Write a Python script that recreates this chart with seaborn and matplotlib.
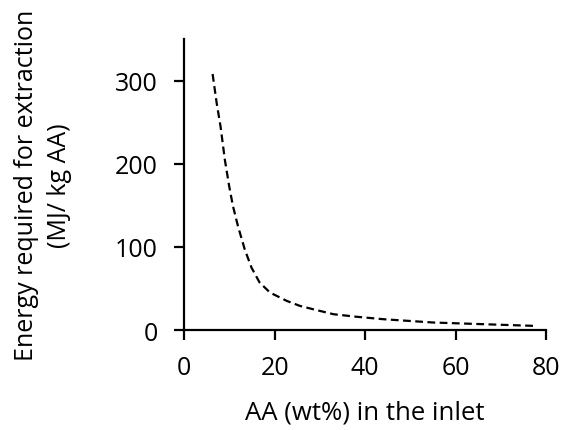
import matplotlib
matplotlib.use("Agg")
import matplotlib.pyplot as plt
import seaborn as sns
import pandas as pd

aa_wt = [6.3, 7.2, 8.05, 9.0, 9.96, 10.8, 11.9, 13.4, 14.9, 16.7, 19.0, 22.7, 25.6,
         28.5, 33.0, 38.0, 44.0, 55.1, 66.1, 77.2]
energy = [308, 273, 245, 205, 173, 149, 125, 97, 75, 57, 45, 35, 29,
          25, 19, 16, 13, 9, 7, 5]
x_ticks = [0, 20, 40, 60, 80]
y_ticks = [0, 100, 200, 300]

sns.set_theme(style="ticks")
plt.rcParams['font.family'] = ['Open Sans', 'DejaVu Sans']
plt.rcParams['text.color'] = 'black'
plt.rcParams['axes.labelcolor'] = 'black'

df = pd.DataFrame({"x": aa_wt, "y": energy})

fig = plt.figure(figsize=(5.63, 4.31), dpi=100)
ax = fig.add_axes([0.327, 0.232, 0.643, 0.675])
sns.lineplot(data=df, x="x", y="y", ax=ax, color="black", linestyle=(0, (3.5, 2)), linewidth=1.6)

ax.set_xlim(0, 80)
ax.set_ylim(0, 350)
ax.set_xticks(x_ticks)
ax.set_yticks(y_ticks)
for s in ["top", "right"]:
    ax.spines[s].set_visible(False)
for s in ["left", "bottom"]:
    ax.spines[s].set_linewidth(1.6)
    ax.spines[s].set_color("black")
ax.tick_params(axis="both", direction="out", length=7, width=1.6, colors="black", labelsize=18)
ax.tick_params(axis="y", pad=12)
ax.tick_params(axis="x", pad=11)
ax.set_xlabel("AA (wt%) in the inlet", fontsize=18.5, labelpad=14)
ax.set_ylabel("Energy required for extraction\n(MJ/ kg AA)", fontsize=18, labelpad=30.5, linespacing=1.45)
ax.grid(False)

fig.savefig("out.png", dpi=100)
